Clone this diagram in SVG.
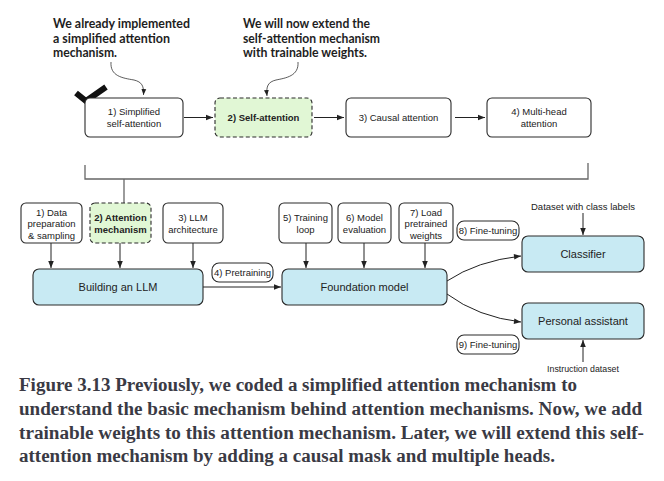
<svg xmlns="http://www.w3.org/2000/svg" width="664" height="481" viewBox="0 0 664 481">
<style>
.bx{fill:#fff;stroke:#2b2b2b;stroke-width:1.1}
.gr{fill:#e1f7d5;stroke:#2b2b2b;stroke-width:1.1;stroke-dasharray:4 2.5}
.bl{fill:#c8eaf3;stroke:#2b2b2b;stroke-width:1.1}
.t{font-family:"Liberation Sans",Arial,sans-serif;font-size:9.5px;fill:#222;text-anchor:middle}
.tb{font-family:"Liberation Sans",Arial,sans-serif;font-size:9.5px;font-weight:bold;fill:#222;text-anchor:middle}
.tl{font-family:"Liberation Sans",Arial,sans-serif;font-size:11px;fill:#222;text-anchor:middle}
.ann{font-family:Lato,"Open Sans",sans-serif;font-size:12.8px;font-weight:bold;fill:#1e1e1e}
.cap{font-family:"Liberation Serif","Times New Roman",serif;font-size:18.5px;font-weight:bold;fill:#3a3a44}
.ln{fill:none;stroke:#222;stroke-width:1}
.th{fill:none;stroke:#333;stroke-width:0.8}
.br{fill:none;stroke:#666;stroke-width:1.3}
</style>
<defs>
<marker id="ah" viewBox="0 0 10 10" refX="10" refY="5" markerWidth="8" markerHeight="7" markerUnits="userSpaceOnUse" orient="auto">
<path d="M0,1 L10,5 L0,9 z" fill="#222"/>
</marker>
<marker id="ahs" viewBox="0 0 10 10" refX="10" refY="5" markerWidth="6" markerHeight="6" markerUnits="userSpaceOnUse" orient="auto">
<path d="M0,1 L10,5 L0,9 z" fill="#222"/>
</marker>
</defs>

<g id="annotations">
<text class="ann" x="53" y="28" textLength="137" lengthAdjust="spacingAndGlyphs">We already implemented</text>
<text class="ann" x="53" y="42.5" textLength="117" lengthAdjust="spacingAndGlyphs">a simplified attention</text>
<text class="ann" x="53" y="57" textLength="64" lengthAdjust="spacingAndGlyphs">mechanism.</text>
<text class="ann" x="243" y="28" textLength="127" lengthAdjust="spacingAndGlyphs">We will now extend the</text>
<text class="ann" x="243" y="42.5" textLength="137" lengthAdjust="spacingAndGlyphs">self-attention mechanism</text>
<text class="ann" x="243" y="57" textLength="124" lengthAdjust="spacingAndGlyphs">with trainable weights.</text>
</g>

<g id="checkmark">
<path d="M76,93 L86,101 L106,87" fill="none" stroke="#111" stroke-width="6"/>
</g>

<g id="connectors">
<path class="th" d="M111,62 C110,76 122,78 134,80 C142,82 144,86 143.5,95" marker-end="url(#ahs)"/>
<path class="th" d="M298,62 C299,76 286,78 276,80 C268,82 266,86 267,96" marker-end="url(#ahs)"/>
<path class="ln" d="M184,117.5 H213" marker-end="url(#ah)"/>
<path class="ln" d="M314,117.5 H344" marker-end="url(#ah)"/>
<path class="ln" d="M455,117.5 H485" marker-end="url(#ah)"/>
<path class="br" d="M85,165 V179 H588 V163"/>
<path class="br" d="M124,179 V203"/>
<path class="ln" d="M51,243 V268" marker-end="url(#ah)"/>
<path class="ln" d="M120,243 V268" marker-end="url(#ah)"/>
<path class="ln" d="M193,243 V268" marker-end="url(#ah)"/>
<path class="ln" d="M306,243 V268" marker-end="url(#ah)"/>
<path class="ln" d="M364,243 V268" marker-end="url(#ah)"/>
<path class="ln" d="M425,243 V268" marker-end="url(#ah)"/>
<path class="ln" d="M203,287 H281" marker-end="url(#ah)"/>
<path class="ln" d="M447,281 Q477,261 521,256" marker-end="url(#ah)"/>
<path class="ln" d="M447,294 Q478,317 521,322" marker-end="url(#ah)"/>
<path class="ln" d="M583,213 V235" marker-end="url(#ah)"/>
<path class="ln" d="M583,362 V340" marker-end="url(#ah)"/>
</g>

<g id="simplified">
<rect class="bx" x="85" y="98" width="98" height="39" rx="5"/>
<text class="t" x="134" y="115">1) Simplified</text>
<text class="t" x="134" y="126.5">self-attention</text>
</g>
<g id="self-attention">
<rect class="gr" x="215" y="98" width="97" height="39" rx="5"/>
<text class="tb" x="263.5" y="121">2) Self-attention</text>
</g>
<g id="causal">
<rect class="bx" x="346" y="98" width="105" height="39" rx="5"/>
<text class="t" x="398.5" y="121">3) Causal attention</text>
</g>
<g id="multihead">
<rect class="bx" x="487" y="98" width="104" height="39" rx="5"/>
<text class="t" x="539" y="115">4) Multi-head</text>
<text class="t" x="539" y="126.5">attention</text>
</g>

<g id="data-prep">
<rect class="bx" x="21" y="203" width="61" height="40" rx="5"/>
<text class="t" x="51.5" y="215.5">1) Data</text>
<text class="t" x="51.5" y="227">preparation</text>
<text class="t" x="51.5" y="238.5">&amp; sampling</text>
</g>
<g id="attention-mech">
<rect class="gr" x="90" y="203" width="61" height="40" rx="5"/>
<text class="tb" x="120.5" y="221">2) Attention</text>
<text class="tb" x="120.5" y="232.5">mechanism</text>
</g>
<g id="llm-arch">
<rect class="bx" x="163" y="203" width="60" height="40" rx="5"/>
<text class="t" x="193" y="221">3) LLM</text>
<text class="t" x="193" y="232.5">architecture</text>
</g>
<g id="building">
<rect class="bl" x="33" y="269" width="170" height="36" rx="6"/>
<text class="tl" x="118" y="291">Building an LLM</text>
</g>
<g id="pretraining">
<rect class="bx" x="212" y="263" width="61" height="19" rx="7"/>
<text class="t" x="242.5" y="276">4) Pretraining</text>
</g>
<g id="training-loop">
<rect class="bx" x="279" y="203" width="53" height="40" rx="5"/>
<text class="t" x="305.5" y="221">5) Training</text>
<text class="t" x="305.5" y="232.5">loop</text>
</g>
<g id="model-eval">
<rect class="bx" x="338" y="203" width="53" height="40" rx="5"/>
<text class="t" x="364.5" y="221">6) Model</text>
<text class="t" x="364.5" y="232.5">evaluation</text>
</g>
<g id="load-weights">
<rect class="bx" x="399" y="203" width="54" height="40" rx="5"/>
<text class="t" x="426" y="215.5">7) Load</text>
<text class="t" x="426" y="227">pretrained</text>
<text class="t" x="426" y="238.5">weights</text>
</g>
<g id="foundation">
<rect class="bl" x="282" y="269" width="165" height="36" rx="6"/>
<text class="tl" x="364.5" y="291">Foundation model</text>
</g>
<g id="finetune8">
<rect class="bx" x="457" y="221" width="62" height="19" rx="7"/>
<text class="t" x="488" y="234">8) Fine-tuning</text>
</g>
<g id="finetune9">
<rect class="bx" x="457" y="335" width="62" height="19" rx="7"/>
<text class="t" x="488" y="348">9) Fine-tuning</text>
</g>
<g id="classifier">
<rect class="bl" x="522" y="236" width="122" height="36" rx="6"/>
<text class="tl" x="583" y="258">Classifier</text>
</g>
<g id="assistant">
<rect class="bl" x="522" y="303" width="122" height="36" rx="6"/>
<text class="tl" x="583" y="325">Personal assistant</text>
</g>
<g id="dataset-labels">
<text class="t" x="583" y="210">Dataset with class labels</text>
</g>
<g id="instruction-dataset">
<text class="t" x="583" y="371.5" style="font-size:8.8px">Instruction dataset</text>
</g>

<g id="caption">
<text class="cap" x="19" y="391" textLength="558" lengthAdjust="spacingAndGlyphs">Figure 3.13 Previously, we coded a simplified attention mechanism to</text>
<text class="cap" x="19" y="415" textLength="623" lengthAdjust="spacingAndGlyphs">understand the basic mechanism behind attention mechanisms. Now, we add</text>
<text class="cap" x="19" y="438.5" textLength="625" lengthAdjust="spacingAndGlyphs">trainable weights to this attention mechanism. Later, we will extend this self-</text>
<text class="cap" x="19" y="462" textLength="536" lengthAdjust="spacingAndGlyphs">attention mechanism by adding a causal mask and multiple heads.</text>
</g>
</svg>
